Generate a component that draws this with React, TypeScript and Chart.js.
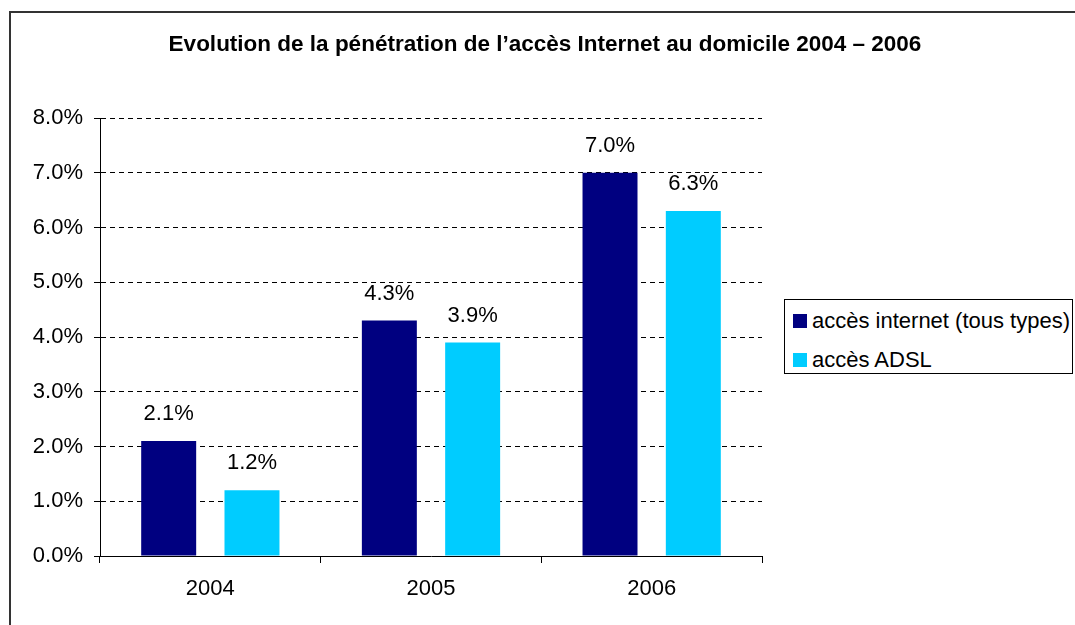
import React, { useEffect, useRef } from "react";
import { Chart, registerables } from "chart.js";

Chart.register(...registerables);

const titleText = "Evolution de la pénétration de l’accès Internet au domicile 2004 – 2006";
const categories = ["2004", "2005", "2006"];
const internetAll = [2.1, 4.3, 7.0];
const adslAccess = [1.2, 3.9, 6.3];
const seriesNames = ["accès internet (tous types)", "accès ADSL"];
const seriesColors = ["#000080", "#00CCFF"];
const yMin = 0;
const yMax = 8;
const yStep = 1;

const FONT = "'Liberation Sans', Arial, sans-serif";

const dataLabels = {
  id: "dataLabels",
  afterDatasetsDraw(chart: any) {
    const ctx = chart.ctx;
    ctx.save();
    ctx.font = `22px ${FONT}`;
    ctx.fillStyle = "#000";
    ctx.textAlign = "center";
    ctx.textBaseline = "middle";
    chart.data.datasets.forEach((ds: any, i: number) => {
      const meta = chart.getDatasetMeta(i);
      meta.data.forEach((el: any, j: number) => {
        const v = ds.data[j] as number;
        ctx.fillText(v.toFixed(1) + "%", el.x, el.y - 27);
      });
    });
    ctx.restore();
  },
};

export default function App() {
  const ref = useRef<HTMLCanvasElement | null>(null);

  useEffect(() => {
    if (!ref.current) return;
    const chart = new Chart(ref.current, {
      type: "bar",
      data: {
        labels: categories,
        datasets: [
          {
            label: seriesNames[0],
            data: internetAll,
            backgroundColor: seriesColors[0],
            categoryPercentage: 0.755,
            barPercentage: 0.66,
          },
          {
            label: seriesNames[1],
            data: adslAccess,
            backgroundColor: seriesColors[1],
            categoryPercentage: 0.755,
            barPercentage: 0.66,
          },
        ],
      },
      options: {
        responsive: false,
        animation: false,
        devicePixelRatio: 1,
        layout: { padding: { left: 0, right: 313, top: 118, bottom: 0 } },
        plugins: {
          legend: { display: false },
          tooltip: { enabled: false },
          title: { display: false },
        },
        scales: {
          x: {
            afterFit: (s: any) => {
              s.height = 69;
            },
            grid: {
              display: true,
              drawOnChartArea: false,
              drawTicks: true,
              tickLength: 7,
              color: "#000",
              offset: true,
            },
            border: { display: true, color: "#000", width: 1 },
            ticks: {
              color: "#000",
              font: { family: FONT, size: 22 },
              padding: 13,
            },
          },
          y: {
            min: yMin,
            max: yMax,
            afterFit: (s: any) => {
              s.width = 100;
            },
            grid: {
              color: "#000",
              lineWidth: 1,
              tickBorderDash: [],
              tickLength: 6,
              drawTicks: true,
            },
            border: { display: true, color: "#000", width: 1, dash: [5, 4] },
            ticks: {
              stepSize: yStep,
              color: "#000",
              font: { family: FONT, size: 22 },
              padding: 11,
              callback: (v: any) => Number(v).toFixed(1) + "%",
            },
          },
        },
      },
      plugins: [dataLabels],
    });
    return () => chart.destroy();
  }, []);

  return (
    <div
      style={{
        position: "fixed",
        left: 0,
        top: 0,
        width: 1075,
        height: 625,
        background: "#fff",
        overflow: "hidden",
        fontFamily: FONT,
      }}
    >
      <div
        style={{
          position: "absolute",
          left: 9,
          top: 11,
          width: 1100,
          height: 700,
          borderLeft: "2px solid #333",
          borderTop: "2px solid #333",
        }}
      />
      <canvas
        ref={ref}
        width={1075}
        height={625}
        style={{ position: "absolute", left: 0, top: 0, width: 1075, height: 625 }}
      />
      <div
        style={{
          position: "absolute",
          left: 145,
          width: 800,
          top: 30,
          height: 28,
          lineHeight: "28px",
          textAlign: "center",
          fontWeight: "bold",
          fontSize: 22.5,
          color: "#000",
          whiteSpace: "nowrap",
        }}
      >
        {titleText}
      </div>
      <div
        style={{
          position: "absolute",
          left: 784,
          top: 299,
          width: 289,
          height: 75,
          border: "1px solid #000",
          boxSizing: "border-box",
          background: "#fff",
        }}
      >
        {seriesNames.map((name, i) => (
          <div
            key={name}
            style={{
              position: "absolute",
              left: 8,
              top: 12 + i * 39,
              height: 18,
              display: "flex",
              alignItems: "center",
              whiteSpace: "nowrap",
            }}
          >
            <span
              style={{
                display: "inline-block",
                width: 14,
                height: 14,
                background: seriesColors[i],
                marginRight: 5,
              }}
            />
            <span style={{ fontSize: 22, color: "#000", lineHeight: "18px" }}>{name}</span>
          </div>
        ))}
      </div>
    </div>
  );
}
